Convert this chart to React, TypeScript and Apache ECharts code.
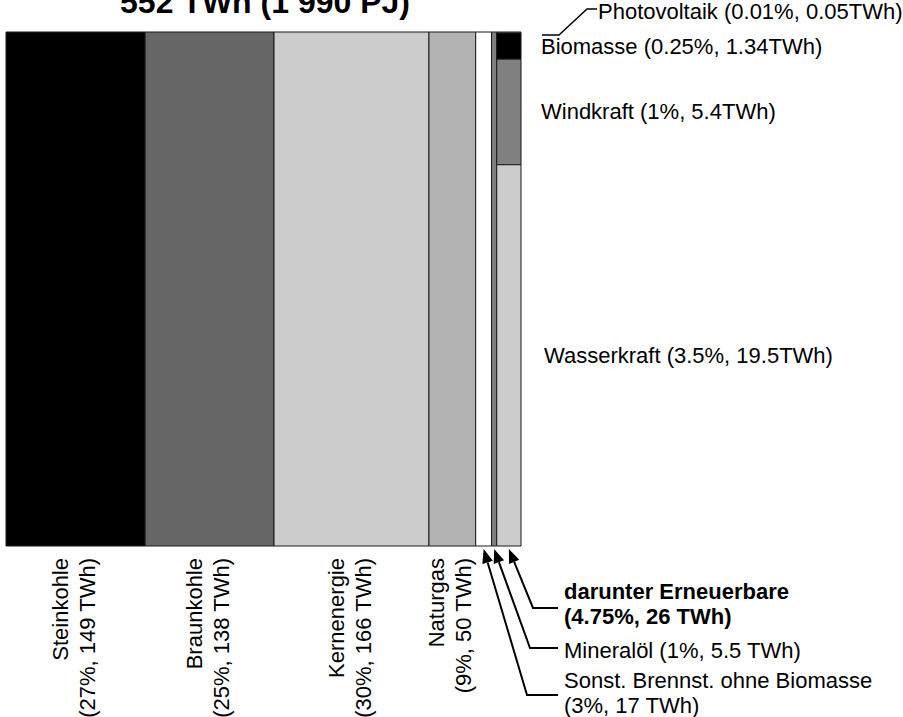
import React, { useEffect, useRef } from 'react';
import * as echarts from 'echarts';

// ---- data ----
const categories = [
  'Steinkohle',
  'Braunkohle',
  'Kernenergie',
  'Naturgas',
  'Sonst. Brennst. ohne Biomasse',
  'Mineralöl',
  'darunter Erneuerbare',
];
const valuesTWh = [149, 138, 166, 50, 17, 5.5, 26];
const sharesPct = [27, 25, 30, 9, 3, 1, 4.75];

const renewNames = ['Photovoltaik', 'Biomasse', 'Windkraft', 'Wasserkraft'];
const renewTWh = [0.05, 1.34, 5.4, 19.5];
const renewPct = [0.01, 0.25, 1, 3.5];

const titleText = '552 TWh (1 990 PJ)';

// ---- styles ----
const catColors = ['#000000', '#666666', '#cccccc', '#b3b3b3', '#ffffff', '#808080', '#cccccc'];
const renewColors = ['#ffffff', '#000000', '#808080', '#cccccc'];
const FONT = "'Liberation Sans', Arial, Helvetica, sans-serif";
const FS = 22;
const RENEW = 6;

// callout layout (pixels) for the narrow columns
const callouts: Record<number, { elbow: [number, number]; lineEnd: number; textX: number; textY: number; bold?: boolean; twoLine: boolean }> = {
  4: { elbow: [527, 695], lineEnd: 558, textX: 564, textY: 693, twoLine: true },
  5: { elbow: [530, 648], lineEnd: 558, textX: 564, textY: 650, twoLine: false },
  6: { elbow: [533, 608], lineEnd: 558, textX: 564, textY: 604, twoLine: true, bold: true },
};

function buildData() {
  const renewSum = renewTWh.reduce((a, b) => a + b, 0);
  const rows: number[][] = [];
  let cum = 0;
  valuesTWh.forEach((v, i) => {
    const x0 = cum;
    const x1 = cum + v;
    cum = x1;
    if (i !== RENEW) {
      rows.push([x0, x1, 0, 1, i, -1]);
    } else {
      let top = 1;
      renewTWh.forEach((r, k) => {
        const h = r / renewSum;
        rows.push([x0, x1, top - h, top, i, k]);
        top -= h;
      });
    }
  });
  return { rows, total: cum };
}

function textEl(x: number, y: number, text: string, extra: any = {}, rotation = 0) {
  return {
    type: 'text',
    x,
    y,
    rotation,
    style: {
      text,
      fill: '#000',
      fontSize: FS,
      fontFamily: FONT,
      align: 'left',
      verticalAlign: 'middle',
      ...extra,
    },
  };
}

function renderItem(params: any, api: any) {
  const x0 = api.value(0);
  const x1 = api.value(1);
  const y0 = api.value(2);
  const y1 = api.value(3);
  const idx = api.value(4);
  const sub = api.value(5);
  const tl = api.coord([x0, y1]);
  const br = api.coord([x1, y0]);
  const left = tl[0];
  const top = tl[1];
  const right = br[0];
  const bottom = br[1];
  const cx = (left + right) / 2;
  const children: any[] = [
    {
      type: 'rect',
      shape: { x: left, y: top, width: right - left, height: bottom - top },
      style: { fill: sub >= 0 ? renewColors[sub] : catColors[idx], stroke: '#1a1a1a', lineWidth: 1 },
    },
  ];

  // rotated labels below wide columns
  if (sub < 0 && idx <= 3) {
    const label = `${categories[idx]}\n(${sharesPct[idx]}%, ${valuesTWh[idx]} TWh)`;
    children.push(textEl(cx - 2, bottom + 12, label, { align: 'right', lineHeight: 27 }, Math.PI / 2));
  }

  // labels of renewable sub-segments
  if (sub >= 0) {
    const label = `${renewNames[sub]} (${renewPct[sub]}%, ${renewTWh[sub]}TWh)`;
    if (sub === 0) {
      children.push({
        type: 'polyline',
        shape: {
          points: [
            [right + 21, top + 3],
            [right + 38, top + 3],
            [right + 66, top - 23],
            [right + 76, top - 23],
          ],
        },
        style: { stroke: '#000', lineWidth: 1.5, fill: 'none' },
      });
      children.push(textEl(right + 77, top - 21, label));
    } else {
      const dx = sub === renewTWh.length - 1 ? 23 : 20;
      children.push(textEl(right + dx, (top + bottom) / 2, label));
    }
  }

  // arrow callouts for narrow columns
  const c = callouts[idx];
  if (c && (idx !== RENEW || sub === renewTWh.length - 1)) {
    const T = [cx, bottom + 3];
    const E = c.elbow;
    const dx = T[0] - E[0];
    const dy = T[1] - E[1];
    const len = Math.sqrt(dx * dx + dy * dy);
    const d = [dx / len, dy / len];
    const B = [T[0] - d[0] * 14, T[1] - d[1] * 14];
    const n = [-d[1], d[0]];
    children.push({
      type: 'polyline',
      shape: { points: [[c.lineEnd, E[1]], E, B] },
      style: { stroke: '#000', lineWidth: 2, fill: 'none' },
    });
    children.push({
      type: 'polygon',
      shape: {
        points: [
          T,
          [B[0] + n[0] * 5.5, B[1] + n[1] * 5.5],
          [B[0] - n[0] * 5.5, B[1] - n[1] * 5.5],
        ],
      },
      style: { fill: '#000' },
    });
    const label = c.twoLine
      ? `${categories[idx]}\n(${sharesPct[idx]}%, ${valuesTWh[idx]} TWh)`
      : `${categories[idx]} (${sharesPct[idx]}%, ${valuesTWh[idx]} TWh)`;
    children.push(
      textEl(c.textX, c.textY, label, {
        lineHeight: 25,
        fontWeight: c.bold ? 'bold' : 'normal',
      })
    );
  }

  return { type: 'group', children };
}

export default function App() {
  const ref = useRef<HTMLDivElement>(null);
  useEffect(() => {
    if (!ref.current) return;
    const chart = echarts.init(ref.current, null, { renderer: 'svg' });
    const { rows, total } = buildData();
    chart.setOption({
      animation: false,
      backgroundColor: '#ffffff',
      grid: { left: 6, top: 32, width: 515, height: 514 },
      xAxis: { type: 'value', min: 0, max: total, show: false },
      yAxis: { type: 'value', min: 0, max: 1, show: false },
      graphic: [
        {
          type: 'text',
          x: 265,
          y: 2,
          style: {
            text: titleText,
            fill: '#000',
            fontSize: 32,
            fontWeight: 'bold',
            fontFamily: FONT,
            align: 'center',
            verticalAlign: 'middle',
          },
        },
      ],
      series: [
        {
          type: 'custom',
          clip: false,
          renderItem,
          encode: { x: [0, 1], y: [2, 3] },
          data: rows,
        },
      ],
    });
    return () => chart.dispose();
  }, []);
  return <div ref={ref} style={{ position: 'absolute', left: 0, top: 0, width: 903, height: 717 }} />;
}
